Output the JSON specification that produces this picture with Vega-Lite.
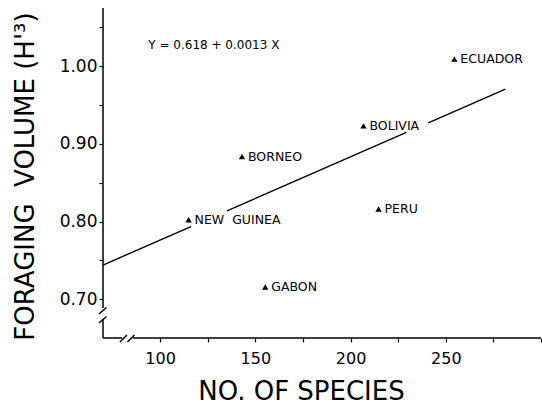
{
  "$schema": "https://vega.github.io/schema/vega-lite/v6.json",
  "width": 438,
  "height": 330,
  "autosize": "none",
  "padding": {"left": 103, "top": 8, "right": 1, "bottom": 68},
  "background": "white",
  "config": {
    "view": {"stroke": null},
    "font": "DejaVu Sans",
    "axis": {
      "domain": false,
      "grid": false,
      "ticks": true,
      "tickColor": "black",
      "tickSize": 4,
      "tickWidth": 1.2,
      "labelColor": "black",
      "labelFont": "DejaVu Sans",
      "titleFont": "DejaVu Sans",
      "titleColor": "black",
      "titleFontWeight": "normal",
      "labelFlush": false,
      "labelOverlap": false
    }
  },
  "encoding": {
    "x": {
      "field": "x",
      "type": "quantitative",
      "scale": {"domain": [70, 300], "nice": false, "zero": false},
      "axis": {
        "values": [100, 125, 150, 175, 200, 225, 250, 275, 300],
        "format": "d",
        "labelExpr": "(datum.value % 50 == 0 && datum.value < 300) ? datum.label : ''",
        "labelFontSize": 16,
        "labelPadding": 8,
        "title": "NO. OF SPECIES",
        "titleFontSize": 26,
        "titleX": 198,
        "titleY": 53,
        "titleAnchor": "middle",
        "titleAlign": "center",
        "titleBaseline": "middle"
      }
    },
    "y": {
      "field": "y",
      "type": "quantitative",
      "scale": {"domain": [0.65, 1.075], "nice": false, "zero": false},
      "axis": {
        "values": [0.7, 0.75, 0.8, 0.85, 0.9, 0.95, 1.0, 1.05],
        "labelExpr": "(round(datum.value * 100) % 10 == 0) ? format(datum.value, '.2f') : ''",
        "labelFontSize": 17,
        "labelPadding": 2,
        "title": "FORAGING\u00a0\u00a0VOLUME (H'³)",
        "titleFontSize": 26,
        "titleAngle": -90,
        "titleX": -78,
        "titleY": 168,
        "titleAlign": "center",
        "titleBaseline": "middle"
      }
    }
  },
  "layer": [
    {
      "data": {
        "values": [
          {"x": 70, "x2": 80, "y": 0.65, "y2": 0.65},
          {"x": 85.75, "x2": 300, "y": 0.65, "y2": 0.65},
          {"x": 78.93, "x2": 82.6, "y": 0.6448, "y2": 0.6539},
          {"x": 82.87, "x2": 86.54, "y": 0.6448, "y2": 0.6539},
          {"x": 70, "x2": 70, "y": 0.6886, "y2": 1.075},
          {"x": 67.9, "x2": 71.84, "y": 0.6809, "y2": 0.6893},
          {"x": 67.9, "x2": 71.84, "y": 0.6693, "y2": 0.6777},
          {"x": 70, "x2": 70, "y": 0.65, "y2": 0.6745}
        ]
      },
      "mark": {"type": "rule", "color": "black", "strokeWidth": 1.5},
      "encoding": {
        "x2": {"field": "x2"},
        "y2": {"field": "y2"}
      }
    },
    {
      "data": {
        "values": [
          {"seg": 1, "x": 70.3, "y": 0.7443},
          {"seg": 1, "x": 116.2, "y": 0.7935},
          {"seg": 2, "x": 135.1, "y": 0.8137},
          {"seg": 2, "x": 229.3, "y": 0.9147},
          {"seg": 3, "x": 240.8, "y": 0.927},
          {"seg": 3, "x": 281.3, "y": 0.9704}
        ]
      },
      "mark": {"type": "line", "color": "black", "strokeWidth": 1.4},
      "encoding": {
        "detail": {"field": "seg", "type": "nominal"}
      }
    },
    {
      "data": {
        "values": [
          {"label": "ECUADOR", "x": 254.5, "y": 1.0094},
          {"label": "BOLIVIA", "x": 206.8, "y": 0.9232},
          {"label": "BORNEO", "x": 143.0, "y": 0.8837},
          {"label": "NEW\u00a0\u00a0GUINEA", "x": 114.95, "y": 0.8022},
          {"label": "PERU", "x": 214.7, "y": 0.816},
          {"label": "GABON", "x": 155.2, "y": 0.7156}
        ]
      },
      "layer": [
        {
          "mark": {"type": "point", "shape": "triangle-up", "filled": true, "color": "black", "size": 40, "opacity": 1}
        },
        {
          "mark": {"type": "text", "align": "left", "baseline": "middle", "dx": 6, "fontSize": 12.5, "color": "black"},
          "encoding": {"text": {"field": "label"}}
        }
      ]
    },
    {
      "data": {"values": [{"label": "Y = 0.618 + 0.0013 X", "x": 93.8, "y": 1.0274}]},
      "mark": {"type": "text", "align": "left", "baseline": "middle", "fontSize": 12, "color": "black"},
      "encoding": {"text": {"field": "label"}}
    }
  ]
}
